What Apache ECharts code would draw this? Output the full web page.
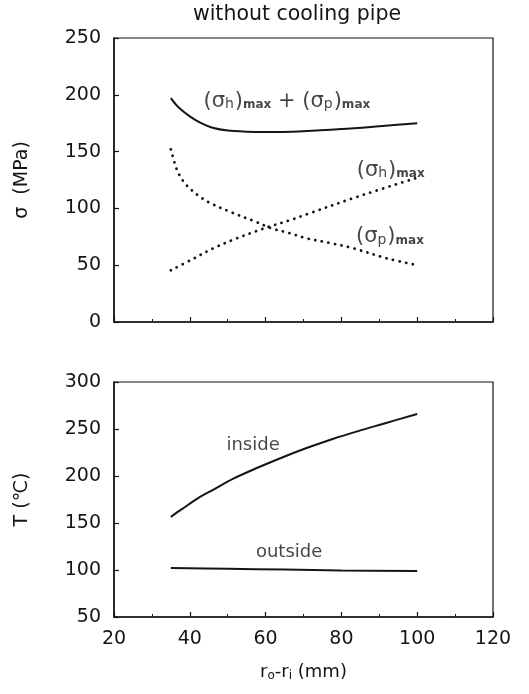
<!DOCTYPE html>
<html>
<head>
<meta charset="utf-8">
<script src="https://cdn.jsdelivr.net/npm/echarts@6/dist/echarts.min.js"></script>
<style>
html,body{margin:0;padding:0;background:#fff;}
#chart{width:529px;height:694px;}
</style>
</head>
<body>
<div id="chart"></div>
<script>
// ---- data ----
const xTicks = [20, 40, 60, 80, 100, 120];
const sigmaTicks = [0, 50, 100, 150, 200, 250];
const tempTicks = [50, 100, 150, 200, 250, 300];

const sumMax = [[35,197],[37,189],[40,181],[43,175],[46,171],[50,168.5],[55,167.5],[60,167.2],[70,168],[80,169.8],[90,172.3],[100,175]];
const sigmaP = [[35,152],[36,140],[37,131],[38.5,123],[40.5,116],[43,109.5],[45.8,104],[51,96.5],[56.8,89],[62,82],[66,78.5],[71,73.5],[77,69.5],[83,65],[92,56],[100,50]];
const sigmaH = [[35,45.5],[41,55.8],[46,64.6],[51.5,72.5],[57.6,80.1],[61,84],[67,90.2],[71,95],[84,110],[100,127]];
const inside = [[35,156.5],[38,165],[42.7,177.7],[46,185],[51.5,197.2],[58,209],[64.7,220.2],[71,230],[77.9,239.7],[85,248.5],[91.1,255.6],[100,266]];
const outside = [[35,102],[50,101.3],[65,100.5],[80,99.6],[100,99]];

const topNotes = [
  {x: 65.6, y: 194, key: 'sum'},
  {x: 93, y: 133.5, key: 'h'},
  {x: 92.8, y: 74.8, key: 'p'}
];
const bottomNotes = [
  {x: 56.7, y: 232.6, text: 'inside'},
  {x: 66.2, y: 119.3, text: 'outside'}
];

const FONT = 'DejaVu Sans';
const INK = '#151515';

const sigRich = {
  p: {fontSize: 21, fontFamily: FONT, color: INK},
  s: {fontSize: 21, fontFamily: FONT, color: INK},
  b: {fontSize: 14, fontFamily: FONT, color: INK, padding: [6,1,0,0]},
  m: {fontSize: 12, fontFamily: FONT, fontWeight: 'bold', color: INK, padding: [7,0,0,0]}
};
const noteText = {
  sum: '{p|(}{s|σ}{b|h}{p|)}{m|max}{p| + (}{s|σ}{b|p}{p|)}{m|max}',
  h: '{p|(}{s|σ}{b|h}{p|)}{m|max}',
  p: '{p|(}{s|σ}{b|p}{p|)}{m|max}'
};

const chart = echarts.init(document.getElementById('chart'), null, {renderer: 'canvas'});

const axisCommon = {
  axisLine: {show: true, onZero: false, lineStyle: {color: INK, width: 1.5}},
  axisTick: {show: true, inside: true, length: 5, lineStyle: {color: INK, width: 1.2}},
  splitLine: {show: false},
  axisLabel: {fontFamily: FONT, fontSize: 19, color: INK}
};

const dotted = {color: INK, width: 2.8, type: [0.1, 6.6], cap: 'round'};

const option = {
  animation: false,
  backgroundColor: '#fff',
  title: {
    text: 'without cooling pipe',
    left: 297, top: 4, textAlign: 'center', padding: 0,
    textStyle: {fontFamily: FONT, fontSize: 20.5, fontWeight: 'normal', color: INK}
  },
  grid: [
    {left: 114, width: 379, top: 38, height: 284, show: true, borderColor: INK, borderWidth: 1.2, backgroundColor: 'transparent'},
    {left: 114, width: 379, top: 382, height: 235, show: true, borderColor: INK, borderWidth: 1.2, backgroundColor: 'transparent'}
  ],
  xAxis: [
    Object.assign({}, axisCommon, {
      type: 'value', gridIndex: 0, min: xTicks[0], max: xTicks[xTicks.length-1], interval: 20,
      axisLabel: {show: false},
      minorTick: {show: true, splitNumber: 2, length: 3, lineStyle: {color: INK}}
    }),
    Object.assign({}, axisCommon, {
      type: 'value', gridIndex: 1, min: xTicks[0], max: xTicks[xTicks.length-1], interval: 20,
      axisLabel: {fontFamily: FONT, fontSize: 19, color: INK, margin: 13},
      minorTick: {show: true, splitNumber: 2, length: 3, lineStyle: {color: INK}},
      name: '{t|r}{s|o}{t|-r}{s|i}{t| (mm)}',
      nameLocation: 'middle', nameGap: 46,
      nameTextStyle: {
        rich: {
          t: {fontFamily: FONT, fontSize: 18, color: INK},
          s: {fontFamily: FONT, fontSize: 12, color: INK, padding: [7,0,0,0]}
        }
      }
    })
  ],
  yAxis: [
    Object.assign({}, axisCommon, {
      type: 'value', gridIndex: 0, min: sigmaTicks[0], max: sigmaTicks[sigmaTicks.length-1], interval: 50,
      axisLabel: {fontFamily: FONT, fontSize: 19, color: INK, margin: 13},
      name: 'σ  (MPa)', nameLocation: 'middle', nameGap: 82, nameRotate: 90,
      nameTextStyle: {fontFamily: FONT, fontSize: 19, color: INK}
    }),
    Object.assign({}, axisCommon, {
      type: 'value', gridIndex: 1, min: tempTicks[0], max: tempTicks[tempTicks.length-1], interval: 50,
      axisLabel: {fontFamily: FONT, fontSize: 19, color: INK, margin: 13},
      name: 'T (℃)', nameLocation: 'middle', nameGap: 82, nameRotate: 90,
      nameTextStyle: {fontFamily: FONT, fontSize: 19, color: INK}
    })
  ],
  series: [
    {type: 'line', xAxisIndex: 0, yAxisIndex: 0, data: sumMax, smooth: 0.35, symbol: 'none',
     lineStyle: {color: INK, width: 2}},
    {type: 'line', xAxisIndex: 0, yAxisIndex: 0, data: sigmaP, smooth: 0.35, symbol: 'none',
     lineStyle: dotted},
    {type: 'line', xAxisIndex: 0, yAxisIndex: 0, data: sigmaH, smooth: 0.35, symbol: 'none',
     lineStyle: dotted},
    {type: 'line', xAxisIndex: 1, yAxisIndex: 1, data: inside, smooth: 0.35, symbol: 'none',
     lineStyle: {color: INK, width: 2}},
    {type: 'line', xAxisIndex: 1, yAxisIndex: 1, data: outside, smooth: 0.35, symbol: 'none',
     lineStyle: {color: INK, width: 2}},
    {type: 'scatter', xAxisIndex: 0, yAxisIndex: 0, silent: true, symbolSize: 1,
     itemStyle: {color: 'rgba(0,0,0,0)'},
     data: topNotes.map(n => ({value: [n.x, n.y], key: n.key})),
     label: {show: true, position: 'inside', rich: sigRich,
       formatter: p => noteText[p.data.key]}},
    {type: 'scatter', xAxisIndex: 1, yAxisIndex: 1, silent: true, symbolSize: 1,
     itemStyle: {color: 'rgba(0,0,0,0)'},
     data: bottomNotes.map(n => ({value: [n.x, n.y], text: n.text})),
     label: {show: true, position: 'inside', fontFamily: FONT, fontSize: 18, color: INK,
       formatter: p => p.data.text}}
  ]
};
chart.setOption(option);
</script>
</body>
</html>
